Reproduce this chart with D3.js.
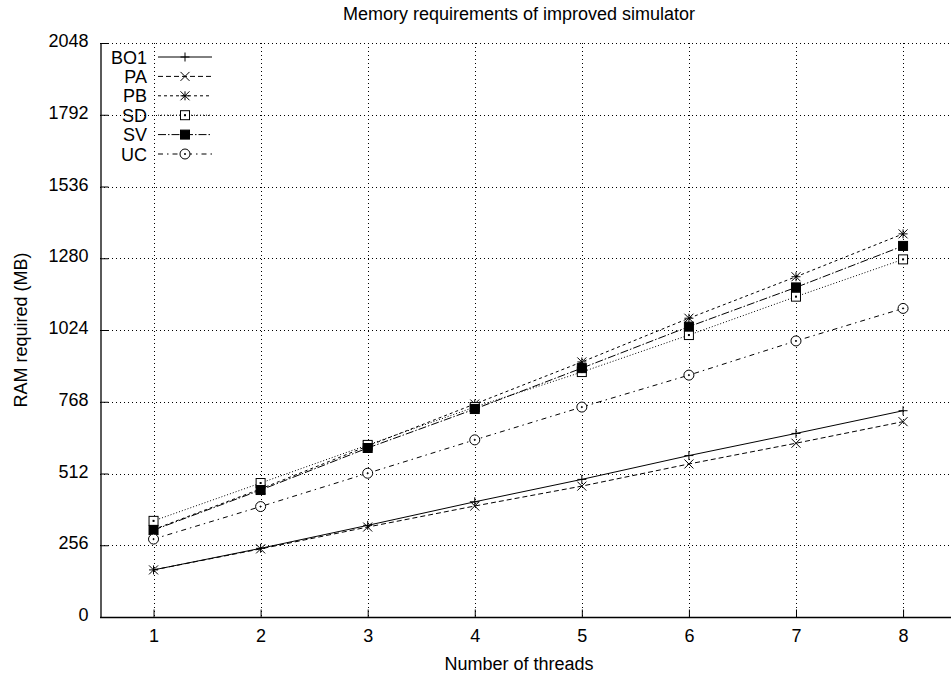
<!DOCTYPE html>
<html>
<head>
<meta charset="utf-8">
<script src="https://cdn.jsdelivr.net/npm/d3@7"></script>
<style>
  body { margin: 0; background: #fff; }
  text { font-family: "Liberation Sans", Arial, Helvetica, sans-serif; fill: #000; }
</style>
</head>
<body>
<svg id="chart" width="951" height="676"></svg>
<script>
// data
const threads = [1, 2, 3, 4, 5, 6, 7, 8];
const seriesNames = ['BO1', 'PA', 'PB', 'SD', 'SV', 'UC'];
const bo1 = [168, 245, 327, 411, 491, 576, 655, 736];
const pa  = [168, 243, 321, 396, 467, 546, 620, 697];
const pb  = [312, 457, 610, 760, 910, 1066, 1214, 1367];
const sd  = [343, 478, 614, 749, 874, 1006, 1143, 1276];
const sv  = [310, 453, 603, 742, 888, 1036, 1176, 1324];
const uc  = [278, 394, 513, 632, 749, 863, 985, 1101];
const yTicks = [0, 256, 512, 768, 1024, 1280, 1536, 1792, 2048];

const seriesValues = [bo1, pa, pb, sd, sv, uc];
const dashes = ['', '5,3', '3,3', '1,2', '8,2,1.5,2', '5,4,1.5,4'];
const markers = ['plus', 'cross', 'star', 'square', 'fsquare', 'circle'];

const svg = d3.select('#chart');
const margin = { left: 100, top: 43, bottom: 617 };
const fs = 18;

const x = d3.scaleLinear().domain([0.5, 8.5]).range([margin.left, 956.6]);
const y = d3.scaleLinear().domain([0, 2048]).range([margin.bottom, margin.top]);

// grid
const grid = svg.append('g').attr('class', 'grid')
  .attr('stroke', '#000').attr('stroke-width', 1).attr('stroke-dasharray', '1,3');
grid.selectAll('line.gx')
  .data(threads)
  .join('line')
  .attr('class', 'gx')
  .attr('x1', d => Math.round(x(d)) + 0.5).attr('x2', d => Math.round(x(d)) + 0.5)
  .attr('y1', margin.top).attr('y2', margin.bottom);
grid.selectAll('line.gy')
  .data(yTicks.slice(1))
  .join('line')
  .attr('class', 'gy')
  .attr('x1', margin.left).attr('x2', 951)
  .attr('y1', d => Math.round(y(d)) + 0.5).attr('y2', d => Math.round(y(d)) + 0.5);

// axes (gnuplot style: ticks point inward)
const xAxis = svg.append('g')
  .attr('transform', `translate(0,${margin.bottom + 0.5})`)
  .call(d3.axisBottom(x).tickValues(threads).tickFormat(d3.format('d'))
    .tickSize(-8).tickPadding(12).tickSizeOuter(0));
xAxis.select('.domain').attr('d', `M${margin.left},0H951`).attr('stroke-width', 1.3);
xAxis.selectAll('.tick text').attr('font-size', fs);

const yAxis = svg.append('g')
  .attr('transform', `translate(${margin.left + 0.5},0)`)
  .call(d3.axisLeft(y).tickValues(yTicks).tickFormat(d3.format('d'))
    .tickSize(-8).tickPadding(12).tickSizeOuter(0));
yAxis.select('.domain').attr('stroke-width', 1.3);
yAxis.selectAll('.tick text').attr('font-size', fs).attr('dy', '0.2em');

// titles
svg.append('text')
  .attr('x', 519).attr('y', 20)
  .attr('text-anchor', 'middle').attr('font-size', fs)
  .text('Memory requirements of improved simulator');
svg.append('text')
  .attr('x', 519).attr('y', 670)
  .attr('text-anchor', 'middle').attr('font-size', fs)
  .text('Number of threads');
svg.append('text')
  .attr('transform', 'translate(27,330) rotate(-90)')
  .attr('text-anchor', 'middle').attr('font-size', fs)
  .text('RAM required (MB)');

function drawMarker(g, type, cx, cy) {
  const s = 4.5;
  const p = g.append('g').attr('transform', `translate(${cx},${cy})`)
    .attr('stroke', '#000').attr('stroke-width', 1).attr('fill', 'none');
  if (type === 'plus' || type === 'star') {
    p.append('path').attr('d', `M${-s},0H${s}M0,${-s}V${s}`);
  }
  if (type === 'cross' || type === 'star') {
    p.append('path').attr('d', `M${-s},${-s}L${s},${s}M${-s},${s}L${s},${-s}`);
  }
  if (type === 'square') {
    p.append('rect').attr('x', -s).attr('y', -s).attr('width', 2 * s).attr('height', 2 * s).attr('fill', '#fff');
    p.append('rect').attr('x', -0.5).attr('y', -0.5).attr('width', 1).attr('height', 1).attr('fill', '#000');
  }
  if (type === 'fsquare') {
    p.append('rect').attr('x', -s).attr('y', -s).attr('width', 2 * s).attr('height', 2 * s).attr('fill', '#000');
  }
  if (type === 'circle') {
    p.append('circle').attr('r', s + 0.5).attr('fill', '#fff');
    p.append('circle').attr('r', 0.6).attr('fill', '#000');
  }
}

const line = d3.line().x((d, i) => x(threads[i])).y(d => y(d));

const plot = svg.append('g').attr('class', 'series');
seriesValues.forEach((vals, k) => {
  plot.append('path')
    .datum(vals)
    .attr('fill', 'none')
    .attr('stroke', '#000')
    .attr('stroke-width', 1)
    .attr('stroke-dasharray', dashes[k] || null)
    .attr('d', line);
  const mg = plot.append('g');
  vals.forEach((v, i) => drawMarker(mg, markers[k], x(threads[i]), y(v)));
});

// legend
const legend = svg.append('g').attr('class', 'legend');
seriesNames.forEach((name, k) => {
  const ly = 57 + k * 19.4;
  legend.append('text')
    .attr('x', 147).attr('y', ly + 6.5)
    .attr('text-anchor', 'end').attr('font-size', fs)
    .text(name);
  legend.append('line')
    .attr('x1', 158).attr('x2', 212)
    .attr('y1', ly).attr('y2', ly)
    .attr('stroke', '#000')
    .attr('stroke-dasharray', dashes[k] || null);
  drawMarker(legend, markers[k], 185, ly);
});
</script>
</body>
</html>
